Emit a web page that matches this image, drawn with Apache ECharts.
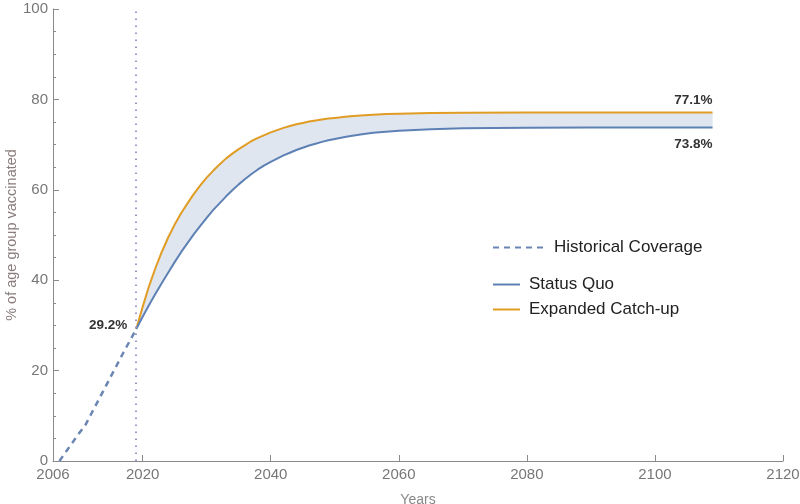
<!DOCTYPE html>
<html>
<head>
<meta charset="utf-8">
<script src="https://cdn.jsdelivr.net/npm/echarts@6/dist/echarts.min.js"></script>
<style>
  html, body { margin: 0; padding: 0; background: #fff; }
  #main { width: 800px; height: 504px; }
</style>
</head>
<body>
<div id="main"></div>
<script>
// historical coverage (dashed)
var histYears = [2007, 2008, 2009, 2010, 2011, 2012, 2013, 2014, 2015, 2016, 2017, 2018, 2019];
var histValues = [0, 2, 4, 6, 7.8, 10.5, 13.2, 15.9, 18.6, 21.3, 24, 26.6, 29.2];

// projections
var projYears = [2019, 2020, 2021, 2022, 2023, 2024, 2025, 2026, 2027, 2028, 2029,
                 2030, 2031, 2032, 2033, 2034, 2035, 2036, 2037, 2038, 2039,
                 2040, 2041, 2042, 2043, 2044, 2045, 2046, 2047, 2048, 2049,
                 2050, 2052, 2054, 2056, 2058, 2060, 2065, 2070, 2080, 2090, 2100, 2109];
var statusQuo = [29.2, 31.9, 34.5, 37.0, 39.4, 41.7, 44.0, 46.2, 48.2, 50.2, 52.0,
                 53.8, 55.5, 57.0, 58.5, 59.9, 61.2, 62.4, 63.5, 64.5, 65.4,
                 66.2, 66.9, 67.6, 68.2, 68.8, 69.3, 69.8, 70.2, 70.6, 70.95,
                 71.25, 71.8, 72.25, 72.6, 72.85, 73.05, 73.4, 73.6, 73.75, 73.8, 73.8, 73.8];
var expanded = [29.2, 34.1, 38.7, 42.7, 46.3, 49.5, 52.3, 54.8, 57.0, 59.1, 61.0,
                62.7, 64.2, 65.6, 66.9, 68.0, 69.0, 69.9, 70.8, 71.5, 72.1,
                72.7, 73.2, 73.7, 74.1, 74.5, 74.8, 75.1, 75.35, 75.55, 75.75,
                75.9, 76.2, 76.45, 76.6, 76.75, 76.85, 76.98, 77.05, 77.1, 77.1, 77.1, 77.1];

var xTicks = [2020, 2040, 2060, 2080, 2100, 2120];
var xLabels = [2006, 2020, 2040, 2060, 2080, 2100, 2120];

function zip(xs, ys) {
  return xs.map(function (x, i) { return [x, ys[i]]; });
}

var last = projYears.length - 1;
var hLast = histYears.length - 1;

var font = 'Liberation Sans, Arial, sans-serif';
var axisGray = '#8a8a8a';
var blue = '#5e81b5';
var orange = '#e19c24';
var histBlue = '#6b86b3';
var bandColor = '#dfe6f0';

// legend icons (thin line / dashed line)
var lineIcon = 'path://M0,0h27v2h-27z';
var dashIcon = 'path://M0,0h6v2h-6z M11,0h6v2h-6z M22,0h6v2h-6z M33,0h6v2h-6z M44,0h6v2h-6z';

// band between the two projections, built from the same points as the lines
function renderBand(params, api) {
  var pts = [];
  for (var i = 0; i < projYears.length; i++) {
    pts.push(api.coord([projYears[i], expanded[i]]));
  }
  for (var j = projYears.length - 1; j >= 0; j--) {
    pts.push(api.coord([projYears[j], statusQuo[j]]));
  }
  return {
    type: 'polygon',
    shape: { points: pts },
    style: { fill: bandColor, stroke: null }
  };
}

var chart = echarts.init(document.getElementById('main'));

var option = {
  animation: false,
  backgroundColor: '#fff',
  textStyle: { fontFamily: font },
  grid: { left: 53, right: 17, top: 9, bottom: 43, outerBoundsMode: 'none', containLabel: false },
  legend: [{
    data: [{ name: 'Historical Coverage', icon: dashIcon }],
    left: 493, top: 239, padding: 0, z: 10,
    itemWidth: 54, itemHeight: 2,
    textStyle: { fontSize: 17, color: '#222', fontFamily: font, padding: [0, 0, 0, 4] }
  }, {
    data: [{ name: 'Status Quo', icon: lineIcon }, { name: 'Expanded Catch-up', icon: lineIcon }],
    orient: 'vertical',
    left: 493, top: 276, padding: 0, z: 10,
    itemWidth: 27, itemHeight: 2, itemGap: 8,
    textStyle: { fontSize: 17, color: '#222', fontFamily: font, padding: [0, 0, 0, 4] }
  }],
  xAxis: {
    type: 'value',
    min: 2006, max: 2120,
    name: 'Years',
    nameLocation: 'middle',
    nameGap: 32,
    nameTextStyle: { color: '#888', fontSize: 14 },
    axisLine: { lineStyle: { color: axisGray, width: 1 } },
    axisTick: { inside: true, length: 6, customValues: xTicks, lineStyle: { color: axisGray } },
    axisLabel: { customValues: xLabels, color: '#777', fontSize: 15, margin: 6, formatter: function (v) { return String(v); } },
    splitLine: { show: false }
  },
  yAxis: {
    type: 'value',
    min: 0, max: 100, interval: 20,
    name: '% of age group vaccinated',
    nameLocation: 'middle',
    nameGap: 34,
    nameMoveOverlap: false,
    nameTextStyle: { color: '#8a7d7d', fontSize: 14.5 },
    axisLine: { show: true, lineStyle: { color: axisGray, width: 1 } },
    axisTick: { inside: true, length: 6, lineStyle: { color: axisGray } },
    minorTick: { show: true, splitNumber: 4, length: 3, lineStyle: { color: axisGray } },
    axisLabel: { color: '#777', fontSize: 15, margin: 5 },
    splitLine: { show: false }
  },
  series: [{
    name: 'band',
    type: 'custom',
    renderItem: renderBand,
    data: [[projYears[0], statusQuo[0]]],
    silent: true,
    z: 1
  }, {
    name: 'Expanded Catch-up',
    type: 'line',
    data: zip(projYears, expanded),
    symbol: 'none',
    lineStyle: { color: orange, width: 2 },
    itemStyle: { color: orange },
    markPoint: {
      symbol: 'circle', symbolSize: 0,
      label: { show: true, position: 'top', distance: 5, align: 'right', color: '#333', fontSize: 13.5, fontWeight: 'bold', formatter: expanded[last].toFixed(1) + '%' },
      data: [{ coord: [projYears[last], expanded[last]] }]
    },
    z: 3
  }, {
    name: 'Status Quo',
    type: 'line',
    data: zip(projYears, statusQuo),
    symbol: 'none',
    lineStyle: { color: blue, width: 2 },
    itemStyle: { color: blue },
    markPoint: {
      symbol: 'circle', symbolSize: 0,
      label: { show: true, position: 'bottom', distance: 10, align: 'right', color: '#333', fontSize: 13.5, fontWeight: 'bold', formatter: statusQuo[last].toFixed(1) + '%' },
      data: [{ coord: [projYears[last], statusQuo[last]] }]
    },
    z: 4
  }, {
    name: 'Historical Coverage',
    type: 'line',
    data: zip(histYears, histValues),
    symbol: 'none',
    lineStyle: { color: histBlue, width: 2.5, type: [6, 5] },
    itemStyle: { color: histBlue },
    markLine: {
      silent: true,
      symbol: 'none',
      label: { show: false },
      lineStyle: { color: '#9898c8', width: 2, type: [1.5, 5.5] },
      data: [{ xAxis: histYears[hLast] }]
    },
    markPoint: {
      symbol: 'circle', symbolSize: 0,
      label: { show: true, position: 'left', distance: 9, offset: [0, -4], color: '#333', fontSize: 13.5, fontWeight: 'bold', formatter: histValues[hLast].toFixed(1) + '%' },
      data: [{ coord: [histYears[hLast], histValues[hLast]] }]
    },
    z: 5
  }]
};

chart.setOption(option);
</script>
</body>
</html>
